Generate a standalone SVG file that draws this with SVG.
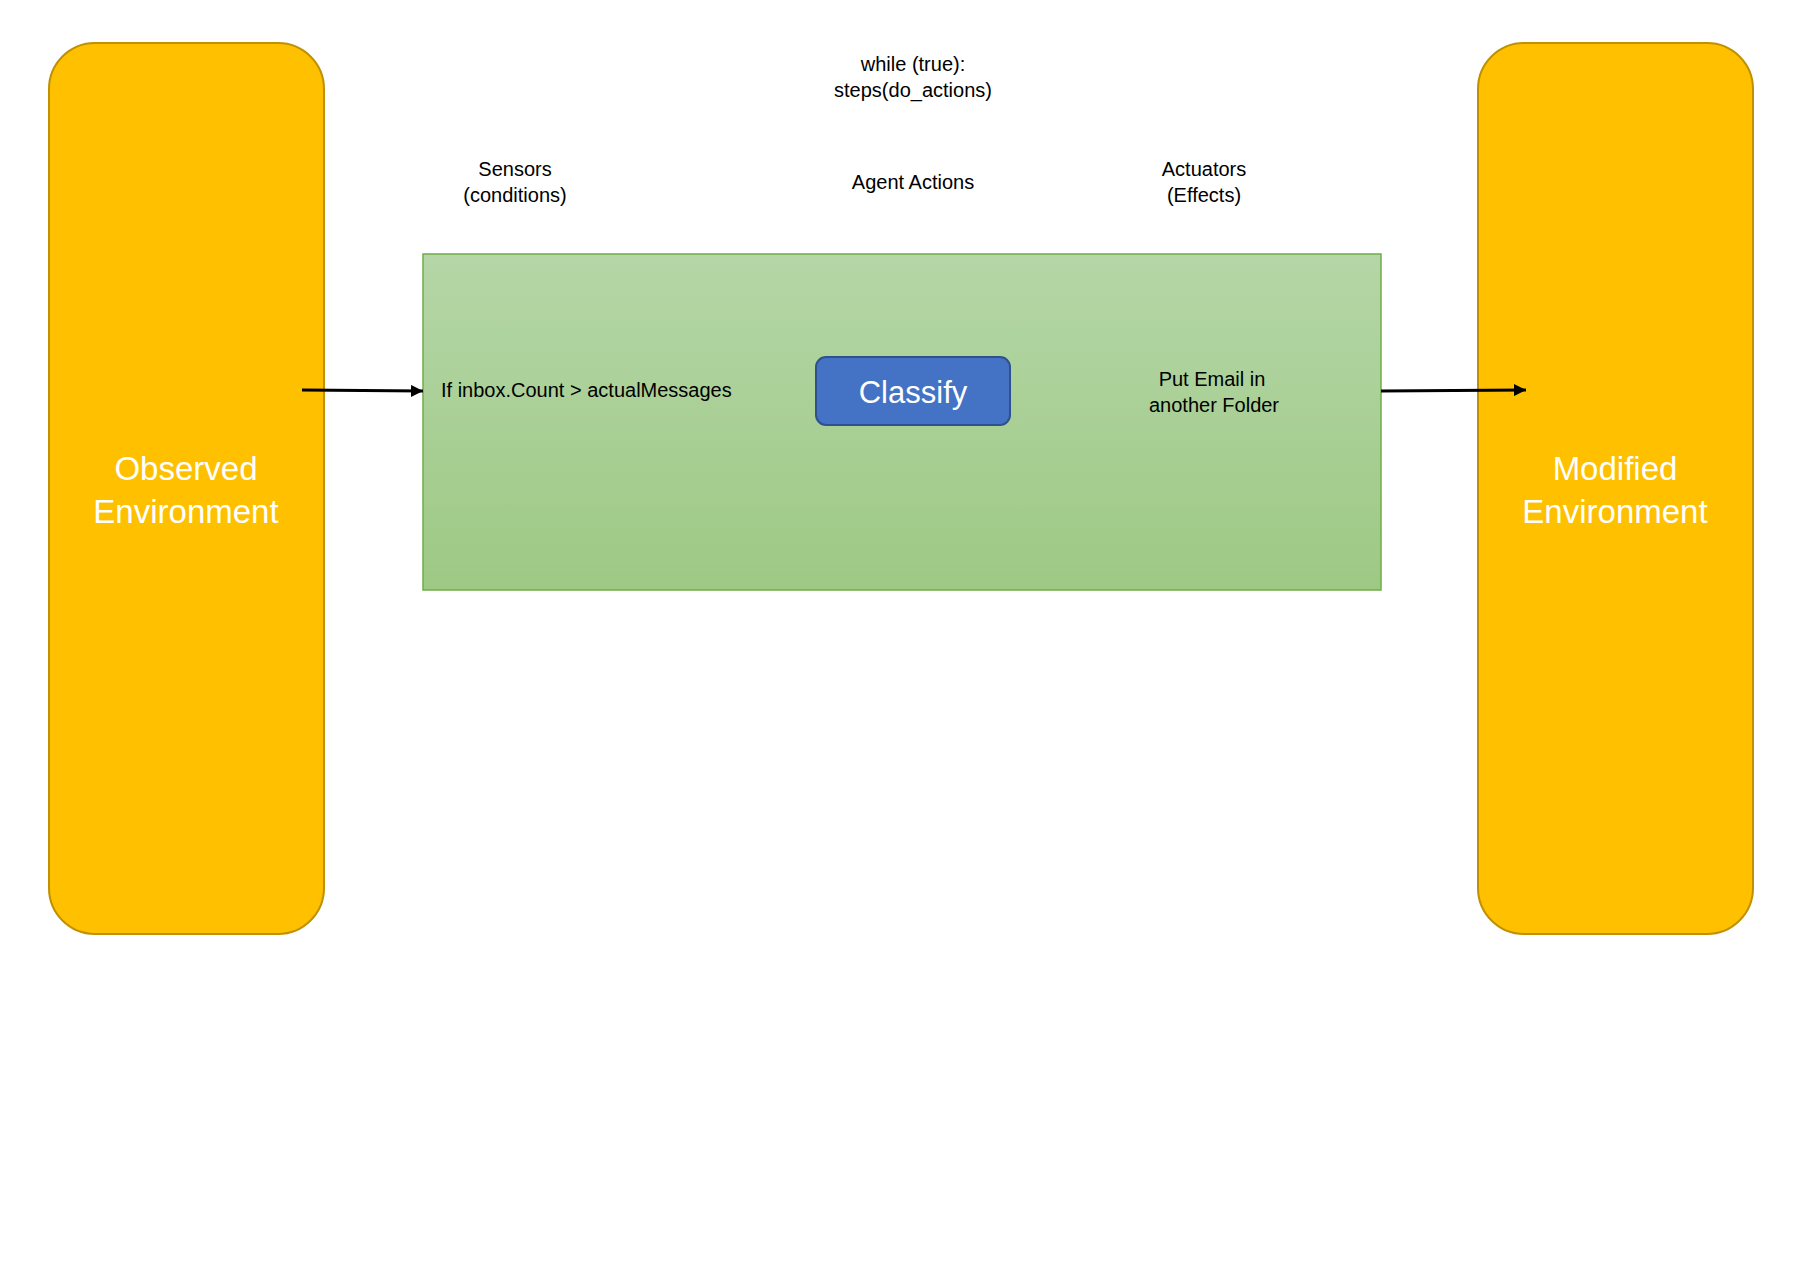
<svg xmlns="http://www.w3.org/2000/svg" width="1807" height="1280" viewBox="0 0 1807 1280">
  <style>
    .env { fill: #FFC000; stroke: #BF9000; stroke-width: 2; }
    .env-label { font-family: "Liberation Sans", Arial, sans-serif; font-size: 33px; fill: #FFFFFF; text-anchor: middle; }
    .label { font-family: "Liberation Sans", Arial, sans-serif; font-size: 20px; fill: #000000; text-anchor: middle; }
    .action { fill: #4472C4; stroke: #2F528F; stroke-width: 2; }
    .action-label { font-family: "Liberation Sans", Arial, sans-serif; font-size: 31px; fill: #FFFFFF; text-anchor: middle; }
    .conn { stroke: #000000; stroke-width: 3; fill: none; marker-end: url(#arrow); }
  </style>
  <defs>
    <linearGradient id="agentFill" x1="0" y1="0" x2="0" y2="1">
      <stop offset="0" stop-color="#B5D6A7"/>
      <stop offset="1" stop-color="#9DC984"/>
    </linearGradient>
    <marker id="arrow" viewBox="0 0 10 10" refX="10" refY="5" markerWidth="4" markerHeight="4" orient="auto" markerUnits="strokeWidth">
      <path d="M0,0 L10,5 L0,10 z" fill="#000000"/>
    </marker>
  </defs>

  <rect width="1807" height="1280" fill="#FFFFFF"/>

  <!-- heading texts -->
  <g id="loop-label">
    <text class="label" x="913" y="71">while (true):</text>
    <text class="label" x="913" y="97">steps(do_actions)</text>
  </g>
  <g id="sensors-label">
    <text class="label" x="515" y="176">Sensors</text>
    <text class="label" x="515" y="202">(conditions)</text>
  </g>
  <g id="agent-actions-label">
    <text class="label" x="913" y="189">Agent Actions</text>
  </g>
  <g id="actuators-label">
    <text class="label" x="1204" y="176">Actuators</text>
    <text class="label" x="1204" y="202">(Effects)</text>
  </g>

  <!-- environments -->
  <g id="observed-environment">
    <rect class="env" x="49" y="43" width="275" height="891" rx="46" ry="46"/>
    <text class="env-label" x="186" y="480">Observed</text>
    <text class="env-label" x="186" y="523">Environment</text>
  </g>
  <g id="modified-environment">
    <rect class="env" x="1478" y="43" width="275" height="891" rx="46" ry="46"/>
    <text class="env-label" x="1615" y="480">Modified</text>
    <text class="env-label" x="1615" y="523">Environment</text>
  </g>

  <!-- agent block -->
  <g id="agent">
    <rect x="423" y="254" width="958" height="336" fill="url(#agentFill)" stroke="#70AD47" stroke-width="1.5"/>
    <text class="label" x="441" y="397" style="text-anchor:start">If inbox.Count &gt; actualMessages</text>
    <text class="label" x="1212" y="386">Put Email in</text>
    <text class="label" x="1214" y="412">another Folder</text>
  </g>
  <g id="classify">
    <rect class="action" x="816" y="357" width="194" height="68" rx="10" ry="10"/>
    <text class="action-label" x="913" y="403">Classify</text>
  </g>

  <!-- connectors -->
  <g id="connectors">
    <path class="conn" d="M302,390 L423,391"/>
    <path class="conn" d="M1381,391 L1526,390"/>
  </g>
</svg>
